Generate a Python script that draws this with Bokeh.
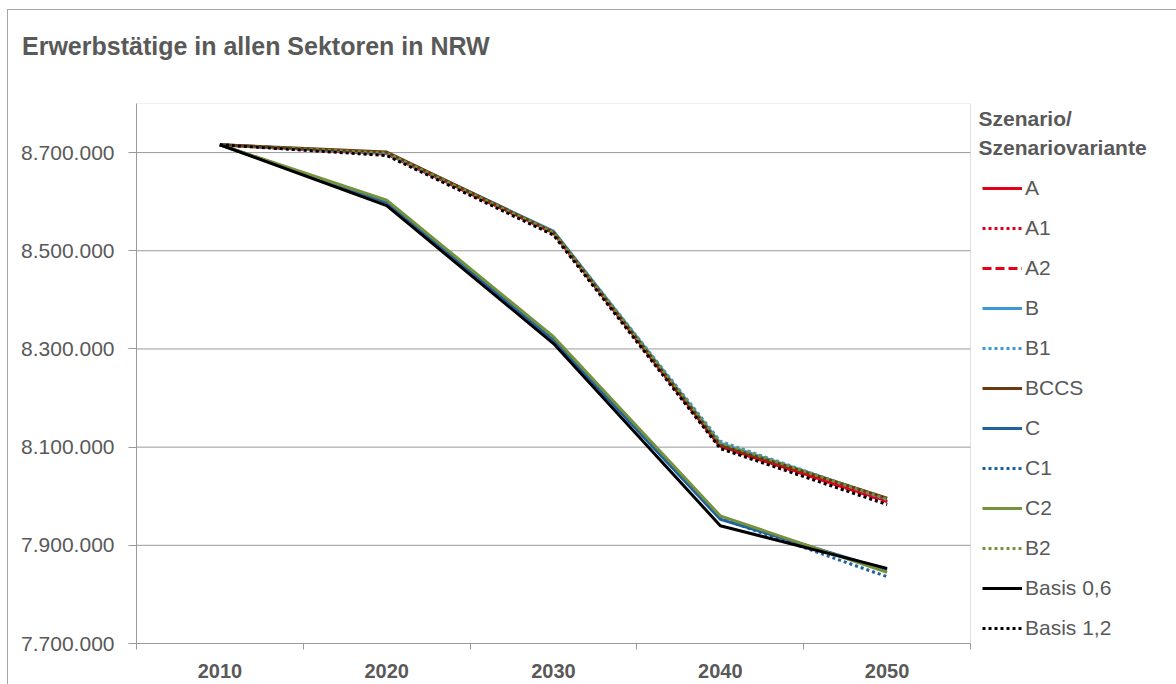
from bokeh.plotting import figure
from bokeh.models import Legend, LegendItem, FixedTicker, Range1d, BoxAnnotation, Label, Div
from bokeh.layouts import column
from bokeh.embed import file_html
from bokeh.resources import INLINE

# ---- data ----
years = ["2010", "2020", "2030", "2040", "2050"]
A          = [8716000, 8698000, 8537000, 8102000, 7990000]
A1         = [8716000, 8696000, 8534000, 8099000, 7987000]
A2         = [8716000, 8697000, 8536000, 8101000, 7989000]
B          = [8716000, 8699000, 8540000, 8108000, 7995000]
B1         = [8716000, 8697000, 8539000, 8112000, 7993000]
BCCS       = [8716000, 8701000, 8538000, 8104000, 7996000]
C          = [8716000, 8598000, 8318000, 7953000, 7850000]
C1         = [8716000, 8600000, 8320000, 7955000, 7836000]
C2         = [8716000, 8603000, 8325000, 7960000, 7845000]
B2         = [8716000, 8699000, 8537000, 8109000, 7994000]
Basis06    = [8716000, 8592000, 8311000, 7940000, 7853000]
Basis12    = [8716000, 8694000, 8532000, 8097000, 7983000]
y_ticks = [7700000, 7900000, 8100000, 8300000, 8500000, 8700000]
y_min, y_max = 7700000, 8800000
title_text = "Erwerbstätige in allen Sektoren in NRW"

series = [
    ("A", A, "#E2001A", "solid"),
    ("A1", A1, "#E2001A", "3 3"),
    ("A2", A2, "#E2001A", "9 4"),
    ("B", B, "#3B99D8", "solid"),
    ("B1", B1, "#3B99D8", "3 3"),
    ("BCCS", BCCS, "#6B3A10", "solid"),
    ("C", C, "#1F62A0", "solid"),
    ("C1", C1, "#1F62A0", "3 3"),
    ("C2", C2, "#76923C", "solid"),
    ("B2", B2, "#76923C", "3 3"),
    ("Basis 0,6", Basis06, "#000000", "solid"),
    ("Basis 1,2", Basis12, "#000000", "3 3"),
]

TXT = "#595959"
GRID = "#9a9a9a"
FONT = "Liberation Sans"

# layout (pixels)
W, H = 1176, 684
TITLE_H = 70
LEFT, TOP, BOTTOM = 136, 103 - TITLE_H, 41
PLOT_RIGHT = 970          # right edge of the drawing area
n = len(years)
x = [i + 0.5 for i in range(n)]
x_end = n * (W - LEFT) / (PLOT_RIGHT - LEFT)   # frame extends under the legend

title_div = Div(
    text=(f'<div style="margin:0;padding:32px 0 0 22px;font-family:\'{FONT}\';'
          f'font-size:25px;font-weight:bold;color:{TXT};white-space:nowrap;'
          f'line-height:29px;">{title_text}</div>'),
    width=W, height=TITLE_H, margin=0)

p = figure(width=W, height=H - TITLE_H, output_backend="svg", toolbar_location=None,
           x_range=Range1d(0, x_end), y_range=Range1d(y_min, y_max),
           min_border_left=LEFT, min_border_right=0, min_border_top=TOP,
           min_border_bottom=BOTTOM, margin=0)
p.border_fill_color = None
p.outline_line_color = None

# axes
p.xaxis.ticker = FixedTicker(ticks=x, minor_ticks=list(range(n + 1)))
p.xaxis.bounds = (0, n)
p.xaxis.major_label_overrides = {xi: y for xi, y in zip(x, years)}
p.xaxis.major_tick_line_color = None
p.xaxis.minor_tick_line_color = GRID
p.xaxis.minor_tick_out = 6
p.xaxis.minor_tick_in = 0
p.xaxis.axis_line_color = GRID
p.xaxis.major_label_text_font = FONT
p.xaxis.major_label_text_font_style = "bold"
p.xaxis.major_label_text_font_size = "20px"
p.xaxis.major_label_text_color = TXT
p.xaxis.major_label_standoff = 14

p.yaxis.ticker = FixedTicker(ticks=y_ticks)
p.yaxis.major_label_overrides = {t: f"{t:,}".replace(",", ".") for t in y_ticks}
p.yaxis.major_tick_out = 8
p.yaxis.major_tick_in = 0
p.yaxis.minor_tick_line_color = None
p.yaxis.major_tick_line_color = GRID
p.yaxis.axis_line_color = GRID
p.yaxis.major_label_text_font = FONT
p.yaxis.major_label_text_font_size = "21px"
p.yaxis.major_label_text_color = TXT
p.yaxis.major_label_standoff = 14

p.xgrid.grid_line_color = None
p.ygrid.grid_line_color = None

# horizontal gridlines limited to the plot area
p.segment(x0=[0] * len(y_ticks), x1=[n] * len(y_ticks), y0=y_ticks, y1=y_ticks,
          line_color=GRID, line_width=1)
# plot area outline
p.add_layout(BoxAnnotation(left=0, right=n, bottom=y_min, top=y_max,
                           fill_alpha=0, line_color=GRID, line_width=1))

items = []
for name, vals, color, dash in series:
    r = p.line(x, vals, line_color=color, line_width=3, line_dash=dash)
    items.append(LegendItem(label=name, renderers=[r]))

legend = Legend(items=items, location=(846, 3), glyph_width=40, glyph_height=24,
                label_height=24, spacing=16, label_standoff=3, padding=0, margin=0,
                background_fill_alpha=0, border_line_color=None,
                label_text_font=FONT, label_text_font_size="21px",
                label_text_color=TXT)
p.add_layout(legend, "center")

for txt, yy in [("Szenario/", 525), ("Szenariovariante", 496)]:
    p.add_layout(Label(x=842, y=yy, x_units="screen", y_units="screen", text=txt,
                       text_font=FONT, text_font_size="21px", text_font_style="bold",
                       text_color=TXT, text_baseline="middle"))

layout = column(title_div, p, spacing=0, margin=0,
                styles={"box-shadow": "inset 7px 9px 0 0 #ffffff, inset 8px 10px 0 0 #a6a6a6"})

open("out.html", "w").write(file_html(layout, INLINE))
